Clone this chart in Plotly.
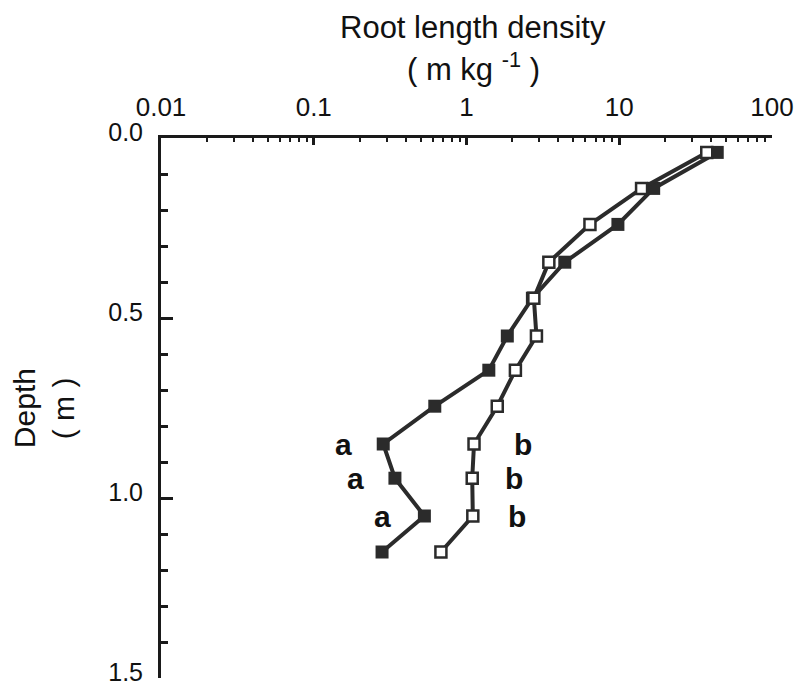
import plotly.graph_objects as go
import numpy as np

# Depth (m) of each sampling layer
depth = [0.04, 0.14, 0.24, 0.345, 0.445, 0.55, 0.645, 0.745, 0.85, 0.945, 1.05, 1.15]

# Root length density (m kg-1), series "a" (filled squares)
rld_a = [43.8, 16.8, 9.8, 4.4, 2.7, 1.85, 1.40, 0.62, 0.285, 0.34, 0.53, 0.28]
# Root length density (m kg-1), series "b" (open squares)
rld_b = [37.4, 14.0, 6.43, 3.46, 2.76, 2.87, 2.09, 1.59, 1.12, 1.09, 1.10, 0.68]

# Significance letters
letter_depths = [0.85, 0.945, 1.05]
letters_a = ["a", "a", "a"]
letters_a_x = [0.157, 0.188, 0.283]
letters_b = ["b", "b", "b"]
letters_b_x = [2.36, 2.06, 2.15]

x_tickvals = [0.01, 0.1, 1, 10, 100]
x_ticktext = ["0.01", "0.1", "1", "10", "100"]
y_tickvals = [0.0, 0.5, 1.0, 1.5]
y_ticktext = ["0.0", "0.5", "1.0", "1.5"]

x_minor = [m * 10.0 ** e for e in range(-2, 2) for m in range(2, 10)]
y_minor = [round(v, 2) for v in np.arange(0.1, 1.5, 0.1) if abs(v - 0.5) > 1e-6 and abs(v - 1.0) > 1e-6]

DARK = "#2b2b2b"
FONT = "Liberation Sans"

fig = go.Figure()
fig.add_trace(go.Scatter(
    x=rld_a, y=depth, mode="lines+markers",
    line=dict(color=DARK, width=4),
    marker=dict(symbol="square", size=13, color=DARK, line=dict(width=0)),
    showlegend=False,
))
fig.add_trace(go.Scatter(
    x=rld_b, y=depth, mode="lines+markers",
    line=dict(color=DARK, width=4),
    marker=dict(symbol="square", size=11, color="white", line=dict(width=2.5, color=DARK)),
    showlegend=False,
))

annotations = []
for xv, yv, t in zip(letters_a_x, letter_depths, letters_a):
    annotations.append(dict(x=np.log10(xv), y=yv, xref="x", yref="y", text="<b>%s</b>" % t, showarrow=False,
                            font=dict(family=FONT, size=30, color="#111"), xanchor="center", yanchor="middle"))
for xv, yv, t in zip(letters_b_x, letter_depths, letters_b):
    annotations.append(dict(x=np.log10(xv), y=yv, xref="x", yref="y", text="<b>%s</b>" % t, showarrow=False,
                            font=dict(family=FONT, size=30, color="#111"), xanchor="center", yanchor="middle"))

# axis titles
annotations.append(dict(x=0.511, y=1.205, xref="paper", yref="paper", text="Root length density",
                        showarrow=False, font=dict(family=FONT, size=31, color="#111"),
                        xanchor="center", yanchor="middle"))
annotations.append(dict(x=0.511, y=1.131, xref="paper", yref="paper", text="( m kg <sup>-1</sup> )",
                        showarrow=False, font=dict(family=FONT, size=31, color="#111"),
                        xanchor="center", yanchor="middle"))
annotations.append(dict(x=-0.224, y=0.50, xref="paper", yref="paper", text="Depth",
                        showarrow=False, textangle=-90, font=dict(family=FONT, size=30, color="#111"),
                        xanchor="center", yanchor="middle"))
annotations.append(dict(x=-0.160, y=0.50, xref="paper", yref="paper", text="( m )",
                        showarrow=False, textangle=-90, font=dict(family=FONT, size=30, color="#111"),
                        xanchor="center", yanchor="middle"))

fig.update_layout(
    width=795, height=688,
    margin=dict(l=161, r=23, t=138, b=10, autoexpand=False),
    paper_bgcolor="white", plot_bgcolor="white",
    annotations=annotations,
    xaxis=dict(
        type="log", range=[-2, 2], side="top", automargin=False,
        showline=True, linewidth=3, linecolor="#1a1a1a",
        showgrid=False, zeroline=False,
        tickvals=x_tickvals, ticktext=x_ticktext,
        ticks="inside", ticklen=7, tickwidth=2.5, tickcolor="#1a1a1a",
        ticklabelstandoff=9, ticklabeloverflow="allow",
        tickfont=dict(family=FONT, size=26, color="#111"),
        minor=dict(tickvals=x_minor, ticks="inside", ticklen=4, tickwidth=2, tickcolor="#1a1a1a", showgrid=False),
    ),
    yaxis=dict(
        range=[1.5, 0], automargin=False,
        showline=True, linewidth=3, linecolor="#1a1a1a",
        showgrid=False, zeroline=False,
        tickvals=y_tickvals, ticktext=y_ticktext,
        ticks="inside", ticklen=12, tickwidth=2.5, tickcolor="#1a1a1a",
        ticklabelstandoff=10, ticklabeloverflow="allow", ticklabelshift=6,
        tickfont=dict(family=FONT, size=25, color="#111"),
        minor=dict(tickvals=y_minor, ticks="inside", ticklen=7, tickwidth=2.5, tickcolor="#1a1a1a", showgrid=False),
    ),
)

fig.write_html("out.html")
